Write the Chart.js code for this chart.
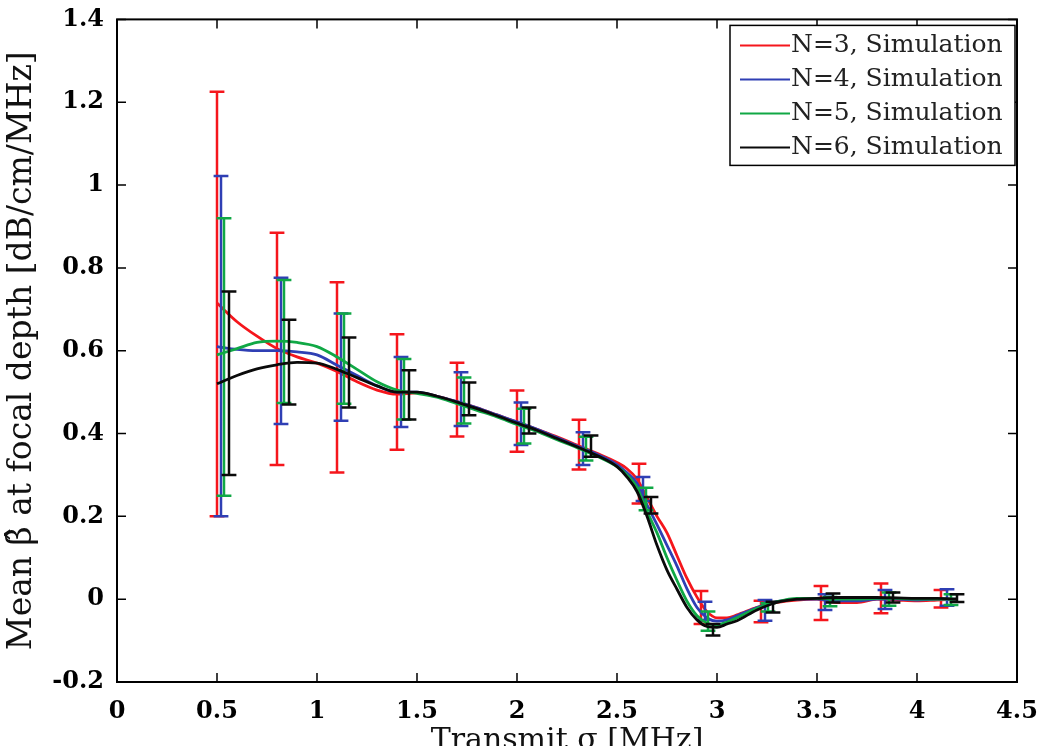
<!DOCTYPE html>
<html>
<head>
<meta charset="utf-8">
<script src="https://cdn.jsdelivr.net/npm/chart.js@4.4.1/dist/chart.umd.min.js"></script>
<style>
  html, body { margin: 0; padding: 0; background: #fff; }
  #wrap { width: 1050px; height: 746px; }
</style>
</head>
<body>
<div id="wrap"><canvas id="chart" width="1050" height="746"></canvas></div>
<script>
// curve samples (x in MHz, mean beta)
const xGrid = [0.5, 0.6, 0.7, 0.8, 0.9, 1.0, 1.1, 1.2, 1.3, 1.4, 1.5, 1.6, 1.7, 1.8, 1.9, 2.0, 2.1, 2.2, 2.3, 2.4, 2.5, 2.55, 2.6, 2.65, 2.7, 2.75, 2.8, 2.85, 2.9, 2.95, 3.0, 3.05, 3.1, 3.2, 3.3, 3.4, 3.5, 3.6, 3.7, 3.8, 3.9, 4.0, 4.1, 4.2];
const curveN3 = [0.715, 0.67, 0.635, 0.605, 0.585, 0.57, 0.55, 0.525, 0.505, 0.495, 0.498, 0.49, 0.477, 0.462, 0.445, 0.428, 0.41, 0.392, 0.372, 0.352, 0.33, 0.315, 0.29, 0.245, 0.2, 0.16, 0.105, 0.05, 0.005, -0.03, -0.045, -0.045, -0.038, -0.02, -0.008, -0.002, 0, -0.008, -0.008, 0, -0.002, -0.004, -0.002, 0];
const curveN4 = [0.61, 0.603, 0.6, 0.6, 0.597, 0.59, 0.565, 0.54, 0.515, 0.5, 0.5, 0.49, 0.477, 0.462, 0.445, 0.428, 0.41, 0.39, 0.37, 0.35, 0.325, 0.305, 0.28, 0.228, 0.18, 0.13, 0.08, 0.025, -0.02, -0.045, -0.053, -0.05, -0.04, -0.02, -0.006, 0, 0, -0.004, -0.004, 0, 0, -0.002, 0, 0];
const curveN5 = [0.59, 0.605, 0.62, 0.623, 0.62, 0.61, 0.585, 0.555, 0.525, 0.505, 0.497, 0.488, 0.472, 0.456, 0.44, 0.422, 0.405, 0.385, 0.366, 0.345, 0.32, 0.3, 0.27, 0.212, 0.16, 0.1, 0.045, -0.005, -0.04, -0.058, -0.062, -0.055, -0.045, -0.022, -0.006, 0.002, 0.002, 0, 0, 0.002, 0.002, 0, 0, 0];
const curveN6 = [0.52, 0.54, 0.556, 0.566, 0.572, 0.57, 0.555, 0.535, 0.515, 0.5, 0.5, 0.49, 0.476, 0.46, 0.443, 0.425, 0.408, 0.388, 0.368, 0.347, 0.32, 0.295, 0.26, 0.2, 0.13, 0.07, 0.024, -0.02, -0.05, -0.066, -0.068, -0.06, -0.052, -0.026, -0.008, 0, 0.002, 0.004, 0.004, 0.004, 0.003, 0.002, 0.002, 0];

// error bars: position, lower and upper ends
const barXN3 = [0.5, 0.8, 1.1, 1.4, 1.7, 2.0, 2.31, 2.61, 2.92, 3.22, 3.52, 3.82, 4.12];
const barLoN3 = [0.2, 0.324, 0.306, 0.361, 0.393, 0.356, 0.313, 0.231, -0.06, -0.056, -0.05, -0.034, -0.02];
const barHiN3 = [1.225, 0.885, 0.765, 0.64, 0.571, 0.504, 0.433, 0.327, 0.02, -0.004, 0.032, 0.038, 0.022];

const barXN4 = [0.52, 0.82, 1.12, 1.42, 1.72, 2.02, 2.33, 2.63, 2.94, 3.24, 3.54, 3.84, 4.15];
const barLoN4 = [0.2, 0.423, 0.431, 0.416, 0.418, 0.372, 0.324, 0.237, -0.05, -0.052, -0.026, -0.024, -0.016];
const barHiN4 = [1.022, 0.776, 0.69, 0.585, 0.548, 0.475, 0.403, 0.295, -0.006, -0.002, 0.012, 0.022, 0.024];

const barXN5 = [0.535, 0.835, 1.135, 1.435, 1.735, 2.035, 2.345, 2.645, 2.955, 3.255, 3.565, 3.86, 4.17];
const barLoN5 = [0.25, 0.474, 0.472, 0.434, 0.424, 0.376, 0.335, 0.215, -0.076, -0.03, -0.017, -0.016, -0.014];
const barHiN5 = [0.92, 0.771, 0.69, 0.58, 0.535, 0.46, 0.392, 0.269, -0.03, -0.01, 0.005, 0.016, 0.012];

const barXN6 = [0.56, 0.86, 1.16, 1.46, 1.76, 2.06, 2.37, 2.67, 2.98, 3.28, 3.58, 3.88, 4.2];
const barLoN6 = [0.3, 0.47, 0.463, 0.434, 0.444, 0.40, 0.344, 0.207, -0.088, -0.032, -0.008, -0.008, -0.007];
const barHiN6 = [0.743, 0.675, 0.632, 0.553, 0.523, 0.463, 0.395, 0.247, -0.06, -0.006, 0.014, 0.016, 0.012];

const seriesLabels = ['N=3, Simulation', 'N=4, Simulation', 'N=5, Simulation', 'N=6, Simulation'];
const seriesColors = ['#f5161c', '#2f3fb4', '#10a845', '#0a0a0a'];

const yTicks = [-0.2, 0, 0.2, 0.4, 0.6, 0.8, 1, 1.2, 1.4];
const xTicks = [0, 0.5, 1, 1.5, 2, 2.5, 3, 3.5, 4, 4.5];

const CAP = 0.037;

function curvePoints(ys) {
    return xGrid.map((x, i) => ({ x: x, y: ys[i] }));
}

// each bar: stem, top cap, bottom cap, split by gaps
function barPoints(xs, lo, hi) {
    const pts = [];
    xs.forEach((x, i) => {
        pts.push({ x: x, y: lo[i] }, { x: x, y: hi[i] }, { x: x, y: null });
        pts.push({ x: x - CAP, y: hi[i] }, { x: x + CAP, y: hi[i] }, { x: x, y: null });
        pts.push({ x: x - CAP, y: lo[i] }, { x: x + CAP, y: lo[i] }, { x: x, y: null });
    });
    return pts;
}

const curves = [curveN3, curveN4, curveN5, curveN6];
const bars = [[barXN3, barLoN3, barHiN3], [barXN4, barLoN4, barHiN4], [barXN5, barLoN5, barHiN5], [barXN6, barLoN6, barHiN6]];

const datasets = [];
curves.forEach((c, i) => {
    datasets.push({
        label: seriesLabels[i],
        data: curvePoints(c),
        borderColor: seriesColors[i],
        borderWidth: 2.8,
        pointRadius: 0,
        cubicInterpolationMode: 'monotone',
        order: (3 - i) * 2 + 1,
        isCurve: true
    });
    datasets.push({
        label: seriesLabels[i] + ' error',
        data: barPoints(...bars[i]),
        borderColor: seriesColors[i],
        borderWidth: 2.5,
        pointRadius: 0,
        spanGaps: false,
        tension: 0,
        order: (3 - i) * 2
    });
});

const serif = '"DejaVu Serif", "Liberation Serif", serif';
const fmtTick = v => String(Math.round(v * 10) / 10);

// box frame with inward ticks, matlab style
const framePlugin = {
    id: 'frame',
    afterDatasetsDraw(chart) {
        const { ctx, chartArea: a, scales } = chart;
        ctx.save();
        ctx.strokeStyle = '#000';
        ctx.lineWidth = 2;
        ctx.strokeRect(a.left, a.top, a.right - a.left, a.bottom - a.top);
        ctx.lineWidth = 1.5;
        ctx.beginPath();
        xTicks.forEach(v => {
            const px = scales.x.getPixelForValue(v);
            ctx.moveTo(px, a.bottom); ctx.lineTo(px, a.bottom - 9);
            ctx.moveTo(px, a.top); ctx.lineTo(px, a.top + 9);
        });
        yTicks.forEach(v => {
            const py = scales.y.getPixelForValue(v);
            ctx.moveTo(a.left, py); ctx.lineTo(a.left + 9, py);
            ctx.moveTo(a.right, py); ctx.lineTo(a.right - 9, py);
        });
        ctx.stroke();
        ctx.restore();
    }
};

// legend box in the top right corner of the plot
const boxLegendPlugin = {
    id: 'boxLegend',
    afterDraw(chart) {
        const { ctx, chartArea: a } = chart;
        const items = chart.data.datasets.filter(d => d.isCurve);
        const left = a.right - 287, top = a.top + 6, w = 285, h = 140;
        ctx.save();
        ctx.fillStyle = '#fff';
        ctx.fillRect(left, top, w, h);
        ctx.strokeStyle = '#000';
        ctx.lineWidth = 1.5;
        ctx.strokeRect(left, top, w, h);
        ctx.font = '25px ' + serif;
        ctx.textBaseline = 'middle';
        ctx.fillStyle = '#222';
        items.forEach((d, i) => {
            const y = top + 20 + i * 34;
            ctx.strokeStyle = d.borderColor;
            ctx.lineWidth = 2;
            ctx.beginPath();
            ctx.moveTo(left + 10, y);
            ctx.lineTo(left + 60, y);
            ctx.stroke();
            ctx.fillText(d.label, left + 61, y);
        });
        ctx.restore();
    }
};

new Chart(document.getElementById('chart'), {
    type: 'line',
    data: { datasets: datasets },
    options: {
        responsive: false,
        animation: false,
        layout: { padding: { top: 19, right: 33, left: 0, bottom: 0 } },
        plugins: {
            legend: { display: false },
            tooltip: { enabled: false }
        },
        scales: {
            x: {
                type: 'linear',
                min: 0,
                max: 4.5,
                grid: { display: false },
                border: { display: false },
                afterBuildTicks: s => { s.ticks = xTicks.map(v => ({ value: v })); },
                afterFit: s => { s.height = 64; },
                ticks: {
                    padding: 7,
                    color: '#000',
                    callback: fmtTick,
                    font: { family: serif, size: 24, weight: 'bold' }
                },
                title: {
                    display: true,
                    text: 'Transmit σ [MHz]',
                    color: '#111',
                    padding: { top: 0, bottom: -10 },
                    font: { family: serif, size: 30, lineHeight: 1 }
                }
            },
            y: {
                type: 'linear',
                min: -0.2,
                max: 1.4,
                grid: { display: false },
                border: { display: false },
                afterBuildTicks: s => { s.ticks = yTicks.map(v => ({ value: v })); },
                afterFit: s => { s.width = 117; },
                ticks: {
                    padding: 5,
                    color: '#000',
                    callback: fmtTick,
                    font: { family: serif, size: 24, weight: 'bold' }
                },
                title: {
                    display: true,
                    text: 'Mean β̂ at focal depth [dB/cm/MHz]',
                    color: '#111',
                    padding: { top: 6, bottom: 0 },
                    font: { family: serif, size: 33, lineHeight: 1 }
                }
            }
        }
    },
    plugins: [framePlugin, boxLegendPlugin]
});
</script>
</body>
</html>
